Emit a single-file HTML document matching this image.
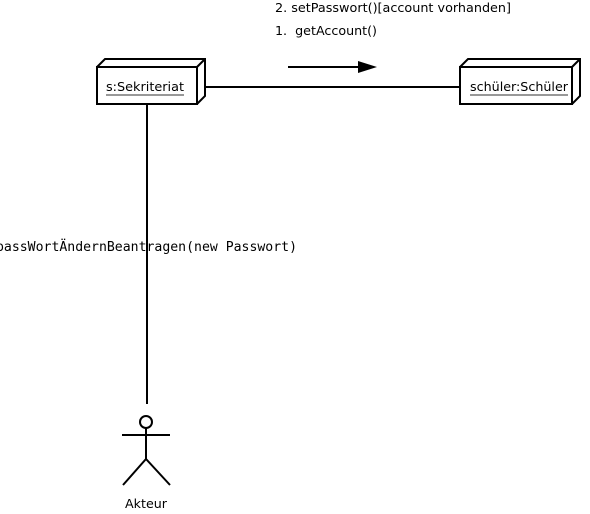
<!DOCTYPE html>
<html><head><meta charset="utf-8"><style>html,body{margin:0;padding:0;background:#fff}svg{display:block}</style></head>
<body>
<svg width="590" height="514" viewBox="0 0 590 514" xmlns="http://www.w3.org/2000/svg" font-family="DejaVu Sans, Liberation Sans, sans-serif">
<g fill="none" stroke="#000" stroke-width="2">
<line x1="205" y1="87" x2="460" y2="87"/>
<line x1="147" y1="104" x2="147" y2="404"/>
<rect x="97" y="67" width="100" height="37" fill="#fff"/>
<polyline points="97,67 105,59 205,59 205,96 197,104"/>
<line x1="197" y1="67" x2="205" y2="59"/>
<rect x="460" y="67" width="112" height="37" fill="#fff"/>
<polyline points="460,67 468,59 580,59 580,96 572,104"/>
<line x1="572" y1="67" x2="580" y2="59"/>
<line x1="288" y1="67" x2="362" y2="67"/>
<circle cx="146" cy="422" r="6"/>
<line x1="146" y1="428" x2="146" y2="459"/>
<line x1="122" y1="435" x2="170" y2="435"/>
<polyline points="123,485 146,459 170,485"/>
</g>
<polygon points="358,61 377,67 358,73" fill="#000"/>
<g font-size="12" fill="#000">
<text x="106" y="91" textLength="78" lengthAdjust="spacingAndGlyphs">s:Sekriteriat</text>
<line x1="106" y1="95" x2="184" y2="95" stroke="#777" stroke-width="1.5"/>
<text x="470" y="91" textLength="98" lengthAdjust="spacingAndGlyphs">schüler:Schüler</text>
<line x1="470" y1="95" x2="568" y2="95" stroke="#777" stroke-width="1.5"/>
<text x="275" y="12" textLength="236" lengthAdjust="spacingAndGlyphs">2. setPasswort()[account vorhanden]</text>
<text x="275" y="35" textLength="102" lengthAdjust="spacingAndGlyphs">1.&#160; getAccount()</text>
<text x="125" y="508" textLength="42" lengthAdjust="spacingAndGlyphs">Akteur</text>
<text x="-4" y="251" font-size="13" font-family="DejaVu Sans Mono, Liberation Mono, monospace" textLength="301" lengthAdjust="spacingAndGlyphs">passWortÄndernBeantragen(new Passwort)</text>
</g>
</svg>
</body></html>
